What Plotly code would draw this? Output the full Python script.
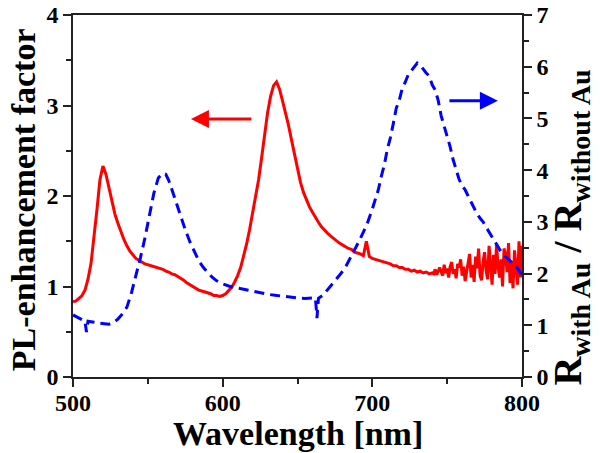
import plotly.graph_objects as go

# ---- PL enhancement factor (left axis, red solid) ----
red_wl = list(range(500, 741, 2)) + list(range(741, 801))
red_pl = [
    0.83, 0.84, 0.87, 0.90, 0.96, 1.08, 1.25, 1.52, 1.85, 2.18,
    2.33, 2.24, 2.08, 1.95, 1.80, 1.70, 1.60, 1.52, 1.45, 1.39,
    1.35, 1.31, 1.29, 1.27, 1.25, 1.24, 1.23, 1.22, 1.21, 1.20,
    1.19, 1.17, 1.16, 1.14, 1.13, 1.11, 1.09, 1.07, 1.04, 1.02,
    1.00, 0.98, 0.96, 0.95, 0.94, 0.93, 0.92, 0.90, 0.90, 0.89,
    0.90, 0.92, 0.95, 0.99, 1.05, 1.12, 1.21, 1.33, 1.47, 1.63,
    1.82, 2.00, 2.18, 2.42, 2.68, 2.92, 3.10, 3.22, 3.26, 3.18,
    3.05, 2.92, 2.78, 2.62, 2.45, 2.30, 2.15, 2.04, 1.95, 1.88,
    1.82, 1.76, 1.71, 1.66, 1.62, 1.59, 1.56, 1.53, 1.50, 1.48,
    1.46, 1.44, 1.42, 1.41, 1.38, 1.37, 1.36, 1.34, 1.50, 1.33,
    1.31, 1.30, 1.29, 1.28, 1.27, 1.26, 1.25, 1.23, 1.23, 1.21,
    1.21, 1.19, 1.19, 1.17, 1.18, 1.16, 1.17, 1.15, 1.16, 1.14,
    1.15,
    1.14, 1.19, 1.13, 1.17, 1.21, 1.16, 1.12, 1.24, 1.15, 1.20,
    1.10, 1.22, 1.27, 1.14, 1.19, 1.09, 1.25, 1.21, 1.30, 1.12,
    1.22, 1.06, 1.15, 1.28, 1.36, 1.10, 1.24, 1.05, 1.33, 1.20,
    1.42, 1.12, 1.07, 1.27, 1.38, 1.18, 1.08, 1.45, 1.25, 1.02,
    1.35, 1.14, 1.47, 1.22, 1.10, 1.30, 1.00, 1.42, 1.36, 1.16,
    1.48, 1.04, 1.28, 0.98, 1.40, 1.15, 1.02, 1.50, 1.10, 1.45,
]

# ---- Reflectance ratio (right axis, blue dashed) ----
blue_wl = [
    500, 503, 506, 508, 509, 510, 512, 515, 518, 521, 524, 527, 530, 533, 536,
    539, 542, 545, 548, 551, 554, 557, 560, 562, 564, 566, 568, 570, 572, 575,
    578, 581, 584, 587, 590, 593, 596, 600, 605, 610, 615, 620, 625, 630, 635,
    640, 645, 650, 655, 660, 662, 663, 664, 667, 670, 673, 676, 679, 682, 685,
    688, 691, 694, 697, 700, 702, 704, 706, 708, 710, 712, 714, 716, 718, 720,
    722, 724, 726, 728, 730, 732, 734, 736, 738, 740, 742, 744, 746, 748, 750,
    752, 754, 756, 758, 760, 762, 764, 766, 768, 770, 772, 774, 776, 778, 780,
    782, 784, 786, 788, 790, 792, 794, 796, 798, 800,
]
blue_ratio = [
    1.20, 1.15, 1.10, 1.08, 0.87, 1.08, 1.07, 1.05, 1.04, 1.03, 1.02, 1.05, 1.12, 1.22, 1.35,
    1.62, 1.95, 2.30, 2.68, 3.10, 3.55, 3.85, 3.94, 3.92, 3.80, 3.63, 3.45, 3.27, 3.08, 2.85,
    2.62, 2.42, 2.25, 2.12, 2.02, 1.93, 1.86, 1.80, 1.75, 1.72, 1.68, 1.65, 1.62, 1.60, 1.58,
    1.56, 1.55, 1.53, 1.52, 1.52, 1.53, 1.14, 1.52, 1.58, 1.68, 1.79, 1.90, 2.00, 2.12, 2.28,
    2.45, 2.62, 2.80, 3.00, 3.25, 3.45, 3.62, 3.88, 4.10, 4.40, 4.62, 4.90, 5.20, 5.35, 5.58,
    5.70, 5.85, 5.92, 6.00, 6.07, 6.03, 5.95, 5.88, 5.82, 5.65, 5.55, 5.35, 5.05, 4.85, 4.70,
    4.45, 4.20, 4.00, 3.82, 3.70, 3.62, 3.50, 3.38, 3.25, 3.15, 3.07, 3.00, 2.90, 2.80, 2.72,
    2.62, 2.52, 2.42, 2.35, 2.30, 2.25, 2.20, 2.15, 2.05, 1.98,
]

x_ticks = [500, 600, 700, 800]
y_left_ticks = [0, 1, 2, 3, 4]
y_right_ticks = [0, 1, 2, 3, 4, 5, 6, 7]

FONT = "Liberation Serif"

fig = go.Figure()
fig.add_trace(go.Scatter(
    x=red_wl, y=red_pl, mode="lines", name="PL enhancement",
    line=dict(color="#ff0000", width=3), yaxis="y",
))
fig.add_trace(go.Scatter(
    x=blue_wl, y=blue_ratio, mode="lines", name="R ratio",
    line=dict(color="#0000ff", width=3, dash="10px,6px"), yaxis="y2",
))

axis_common = dict(
    showline=True, linecolor="#222", linewidth=1.5,
    ticks="outside", ticklen=8, tickwidth=1.5, tickcolor="#222",
    showgrid=False, zeroline=False, automargin=False,
    tickfont=dict(family=FONT, size=24, color="black", weight="bold"),
)
minor_common = dict(ticks="outside", ticklen=5, tickwidth=1.5, tickcolor="#222")

fig.update_layout(
    width=600, height=453,
    margin=dict(l=73, r=78, t=15, b=76, autoexpand=False),
    paper_bgcolor="white", plot_bgcolor="white",
    showlegend=False,
    xaxis=dict(range=[500, 800], tickvals=x_ticks, mirror=True, ticklabelstandoff=-5,
               minor=dict(dtick=50, **minor_common), **axis_common),
    yaxis=dict(range=[0, 4], tickvals=y_left_ticks,
               minor=dict(dtick=0.5, **minor_common), **axis_common),
    yaxis2=dict(range=[0, 7], tickvals=y_right_ticks, overlaying="y", side="right",
                minor=dict(dtick=0.5, **minor_common), **axis_common),
)

# axis titles
fig.add_annotation(text="Wavelength [nm]", xref="paper", yref="paper", x=0.5, y=-0.157,
                   yanchor="middle", showarrow=False,
                   font=dict(family=FONT, size=34, color="black", weight="bold"))
fig.add_annotation(text="PL-enhancement factor", xref="paper", yref="paper", x=-0.11, y=0.49,
                   xanchor="center", yanchor="middle", textangle=-90, showarrow=False,
                   font=dict(family=FONT, size=34, color="black", weight="bold"))
fig.add_annotation(text="R<sub>with Au</sub> / R<sub>without Au</sub>", xref="paper", yref="paper",
                   x=1.108, y=0.414, xanchor="center", yanchor="middle", textangle=-90, showarrow=False,
                   font=dict(family=FONT, size=40, color="black", weight="bold"))

# direction arrows
fig.add_annotation(x=578.8, y=2.85, ax=620.2, ay=2.85, xref="x", yref="y", axref="x", ayref="y",
                   showarrow=True, arrowhead=2, arrowsize=1.2, arrowwidth=3, arrowcolor="#ff0000", text="")
fig.add_annotation(x=783.9, y=5.34, ax=750.5, ay=5.34, xref="x", yref="y2", axref="x", ayref="y2",
                   showarrow=True, arrowhead=2, arrowsize=1.2, arrowwidth=3, arrowcolor="#0000ff", text="")

fig.write_html("out.html", config={"displayModeBar": False},
               post_script="document.body.style.margin='0';document.body.style.padding='0';")
